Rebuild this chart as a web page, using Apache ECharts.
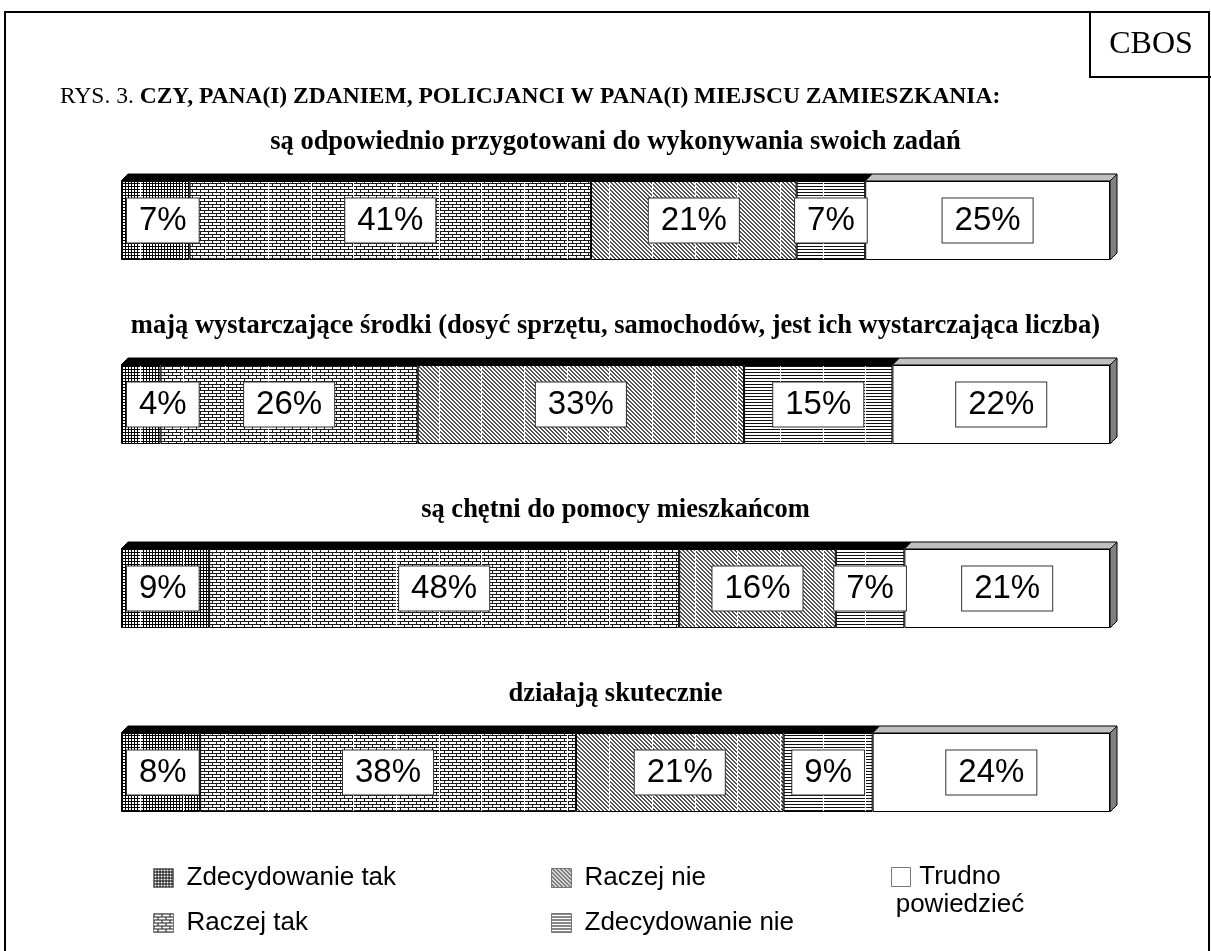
<!DOCTYPE html>
<html><head><meta charset="utf-8">
<script src="https://cdn.jsdelivr.net/npm/echarts@6/dist/echarts.min.js"></script>
<style>html,body{margin:0;padding:0;background:#fff}#c{width:1211px;height:951px}</style>
</head><body><div id="c"></div>
<script>
// ---- data ----
const questions = [
  'są odpowiednio przygotowani do wykonywania swoich zadań',
  'mają wystarczające środki (dosyć sprzętu, samochodów, jest ich wystarczająca liczba)',
  'są chętni do pomocy mieszkańcom',
  'działają skutecznie'
];
const seriesNames = ['Zdecydowanie tak', 'Raczej tak', 'Raczej nie', 'Zdecydowanie nie', 'Trudno powiedzieć'];
const zdecydowanieTak = [7, 4, 9, 8];
const raczejTak = [41, 26, 48, 38];
const raczejNie = [21, 33, 16, 21];
const zdecydowanieNie = [7, 15, 7, 9];
const trudnoPowiedziec = [25, 22, 21, 24];
const mainTitleLead = 'RYS. 3. ';
const mainTitleText = 'CZY, PANA(I) ZDANIEM, POLICJANCI W PANA(I) MIEJSCU ZAMIESZKANIA:';
const sourceLabel = 'CBOS';

const valuesBySeries = [zdecydowanieTak, raczejTak, raczejNie, zdecydowanieNie, trudnoPowiedziec];

// ---- patterns ----
function tile(baseW, baseH, draw, tileW, seams) {
  const W = tileW || baseW;
  const c = document.createElement('canvas'); c.width = W; c.height = baseH;
  const g = c.getContext('2d');
  g.fillStyle = '#fff'; g.fillRect(0, 0, W, baseH);
  for (let x0 = 0; x0 < W; x0 += baseW) { g.save(); g.translate(x0, 0); draw(g); g.restore(); }
  if (seams) { g.fillStyle = '#fff'; seams.forEach(s => g.fillRect(s, 0, 1, baseH)); }
  return c;
}
const drawGrid = g => { g.fillStyle = '#000'; g.fillRect(0, 0, 3, 1); g.fillRect(0, 0, 1, 3); };
const drawBrick = g => { g.fillStyle = '#1a1a1a'; g.fillRect(0, 0, 8, 1); g.fillRect(0, 3, 8, 1); g.fillRect(0, 1, 1, 2); g.fillRect(4, 4, 1, 2); };
const drawDiag = g => { g.fillStyle = '#555'; for (let i = 0; i < 4; i++) { g.fillRect(i, i, 1, 1); g.fillRect((i + 1) % 4, i, 1, 1); } };
const drawHoriz = g => { g.fillStyle = '#111'; g.fillRect(0, 0, 4, 1); };
const defs = [[3, 3, drawGrid, 129, [0, 43, 86], 11], [8, 6, drawBrick, 128, [0, 43, 85], 12],
              [4, 4, drawDiag, 128, [0, 43, 85], 12], [4, 3, drawHoriz, 128, [0, 43, 85], 12]];
const barFills = defs.map(d => ({ image: tile(d[0], d[1], d[2], d[3], d[4]), repeat: 'repeat', x: d[5], y: 0 }));
barFills.push('#ffffff');
const legendFills = defs.map(d => ({ image: tile(d[0], d[1], d[2]), repeat: 'repeat' }));
legendFills.push('#ffffff');

// ---- layout ----
const gridLeft = 121, gridWidth = 989, barH = 79;
const gridTops = [181, 365, 549, 733];
const titleTops = [127, 311, 495, 679];
const DEPTH = 7;
const SERIF = 'Liberation Serif', SANS = 'Liberation Sans';

const grids = [], xAxes = [], yAxes = [], series = [], titles = [];
titles.push({
  text: '{a|' + mainTitleLead + '}{b|' + mainTitleText + '}',
  left: 60, top: 83, padding: 0,
  textStyle: { rich: {
    a: { fontFamily: SERIF, fontSize: 23.5, lineHeight: 28, fontWeight: 'normal', color: '#000' },
    b: { fontFamily: SERIF, fontSize: 23.5, lineHeight: 28, fontWeight: 'bold', color: '#000' }
  } }
});
titles.push({
  text: sourceLabel, left: 1151, top: 26, textAlign: 'center', padding: 0,
  textStyle: { fontFamily: SERIF, fontSize: 32, lineHeight: 38, fontWeight: 'normal', color: '#000' }
});

questions.forEach((q, gi) => {
  grids.push({ left: gridLeft, width: gridWidth, top: gridTops[gi], height: barH });
  const row = valuesBySeries.map(a => a[gi]);
  const total = row.reduce((s, v) => s + v, 0);
  xAxes.push({ type: 'value', gridIndex: gi, min: 0, max: total, show: false });
  yAxes.push({ type: 'category', gridIndex: gi, data: [q], show: false });
  titles.push({
    text: q, left: gridLeft + gridWidth / 2, top: titleTops[gi], textAlign: 'center', padding: 0,
    textStyle: { fontFamily: SERIF, fontSize: 26.5, lineHeight: 30, fontWeight: 'bold', color: '#000' }
  });
  seriesNames.forEach((name, k) => {
    series.push({
      type: 'bar', name, stack: 's' + gi, xAxisIndex: gi, yAxisIndex: gi,
      barWidth: '100%', animation: false,
      data: [valuesBySeries[k][gi]],
      itemStyle: { color: barFills[k], borderColor: '#000', borderWidth: 1 },
      label: {
        show: true, position: k === 0 ? 'insideLeft' : 'inside', distance: 6,
        formatter: '{c}%', fontFamily: SANS, fontSize: 33, lineHeight: 34, color: '#000',
        backgroundColor: '#fff', borderColor: '#333', borderWidth: 1, padding: [5, 12, 5, 12]
      },
      z: 2
    });
  });
  // 3D depth faces (top + right side) from the cumulative stacked values
  const depthData = []; let acc = 0;
  row.forEach((v, k) => { depthData.push([acc, acc + v, k, 0]); acc += v; });
  series.push({
    type: 'custom', xAxisIndex: gi, yAxisIndex: gi, silent: true, animation: false, z: 3,
    encode: { x: [0, 1], y: 3 },
    data: depthData,
    renderItem: (params, api) => {
      const p0 = api.coord([api.value(0), 0]);
      const p1 = api.coord([api.value(1), 0]);
      const h = api.size([0, 1])[1];
      const top = p0[1] - h / 2, bot = p0[1] + h / 2;
      const last = api.value(2) === seriesNames.length - 1;
      const ch = [{
        type: 'polygon',
        shape: { points: [[p0[0], top], [p1[0], top], [p1[0] + DEPTH, top - DEPTH], [p0[0] + DEPTH, top - DEPTH]] },
        style: { fill: last ? '#c0c0c0' : '#000', stroke: '#000', lineWidth: 1 }
      }];
      if (last) ch.push({
        type: 'polygon',
        shape: { points: [[p1[0], top], [p1[0] + DEPTH, top - DEPTH], [p1[0] + DEPTH, bot - DEPTH], [p1[0], bot]] },
        style: { fill: '#808080', stroke: '#000', lineWidth: 1 }
      });
      return { type: 'group', children: ch };
    }
  });
});

const legendText = { fontFamily: SANS, fontSize: 26, lineHeight: 30, color: '#000', padding: [0, 0, 0, 8] };
const legendItem = k => ({ name: seriesNames[k], itemStyle: { color: legendFills[k], borderColor: '#777', borderWidth: 1 } });
const legendBase = { orient: 'vertical', itemWidth: 20, itemHeight: 19, itemGap: 15, selectedMode: false,
  icon: 'rect', textStyle: legendText, padding: 0 };

const option = {
  backgroundColor: '#fff',
  animation: false,
  title: titles,
  grid: grids, xAxis: xAxes, yAxis: yAxes, series,
  legend: [
    Object.assign({}, legendBase, { left: 153, top: 863, data: [legendItem(0), legendItem(1)] }),
    Object.assign({}, legendBase, { left: 551, top: 863, data: [legendItem(2), legendItem(3)] }),
    Object.assign({}, legendBase, { left: 891, top: 864, itemWidth: 19, data: [legendItem(4)],
      formatter: () => '{a|Trudno}\n{a|powiedzieć}',
      textStyle: { fontFamily: SANS, fontSize: 26, color: '#000', padding: [28, 0, 0, -18],
        rich: { a: { fontFamily: SANS, fontSize: 26, lineHeight: 28, width: 125, align: 'center' } } } })
  ],
  graphic: [
    { type: 'polyline', shape: { points: [[5, 960], [5, 12], [1209, 12], [1209, 960]] }, style: { stroke: '#000', lineWidth: 2, fill: null } },
    { type: 'polyline', shape: { points: [[1090, 12], [1090, 77], [1211, 77]] }, style: { stroke: '#000', lineWidth: 2, fill: null } }
  ]
};
const chart = echarts.init(document.getElementById('c'), null, { renderer: 'canvas' });
chart.setOption(option);
</script></body></html>
